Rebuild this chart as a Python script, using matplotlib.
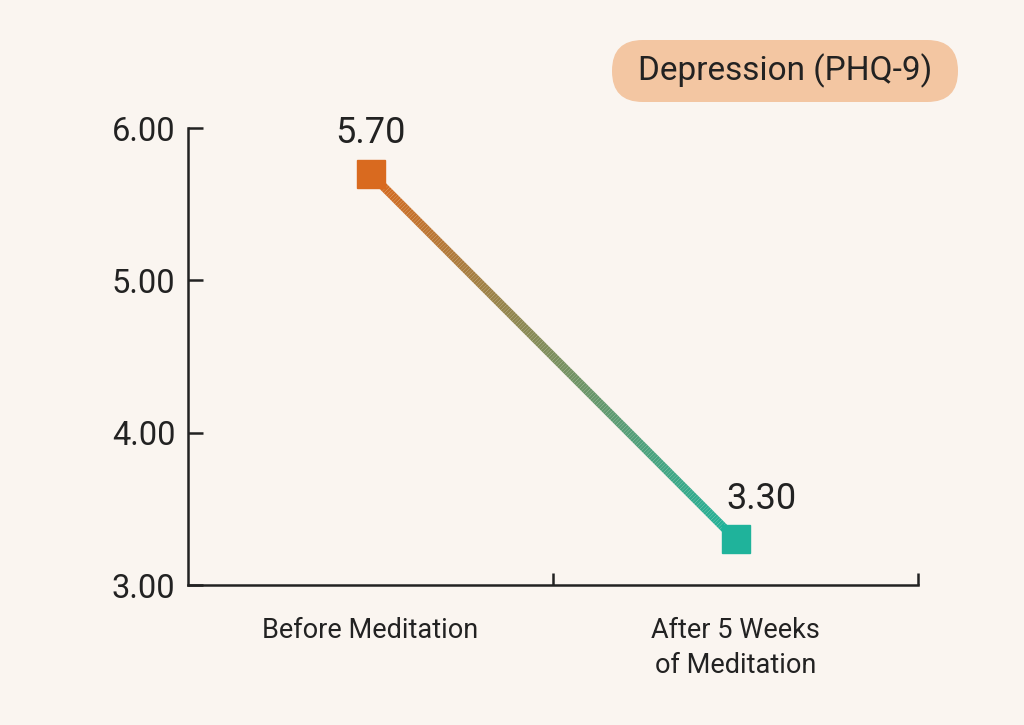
"""Before/after PHQ-9 depression score, gradient line chart."""

import numpy as np
import matplotlib
matplotlib.use('Agg')
import matplotlib.pyplot as plt
from matplotlib.collections import LineCollection
from matplotlib.colors import LinearSegmentedColormap
from matplotlib.patches import FancyBboxPatch


CATEGORIES = ['Before Meditation', 'After 5 Weeks\nof Meditation']
SCORES = [5.70, 3.30]
Y_TICKS = [3.0, 4.0, 5.0, 6.0]
BADGE_TEXT = 'Depression (PHQ-9)'

BG = '#FAF5F0'
INK = '#222222'
ORANGE = '#D96A1F'
TEAL = '#1FB39B'
BADGE = '#F3C6A2'

plt.rcParams['font.family'] = ['Roboto', 'DejaVu Sans']

fig = plt.figure(figsize=(10.24, 7.25), dpi=100, facecolor=BG)
ax = fig.add_axes([0.1836, 0.1931, 0.7129, 0.6303])
ax.set_facecolor(BG)

# points sit in the middle of each category slot
x_pos = np.arange(len(CATEGORIES)) + 0.5

# gradient line: split the single segment into many short pieces
n_pieces = 200
t = np.linspace(0.0, 1.0, n_pieces + 1)
xs = x_pos[0] + (x_pos[1] - x_pos[0]) * t
ys = SCORES[0] + (SCORES[1] - SCORES[0]) * t
pts = np.column_stack([xs, ys]).reshape(-1, 1, 2)
segs = np.concatenate([pts[:-1], pts[1:]], axis=1)
cmap = LinearSegmentedColormap.from_list('grad', [ORANGE, TEAL])
lc = LineCollection(segs, cmap=cmap, linewidth=6.2, capstyle='butt', zorder=2)
lc.set_array(t[:-1])
ax.add_collection(lc)

for x, y, c in zip(x_pos, SCORES, [ORANGE, TEAL]):
    ax.plot(x, y, marker='s', markersize=20.5, color=c, zorder=3)

ax.annotate(f'{SCORES[0]:.2f}', (x_pos[0], SCORES[0]), xytext=(0, 29),
            textcoords='offset points', ha='center', va='center',
            fontsize=26, color=INK)
ax.annotate(f'{SCORES[1]:.2f}', (x_pos[1], SCORES[1]), xytext=(19, 29),
            textcoords='offset points', ha='center', va='center',
            fontsize=26, color=INK)

ax.set_xlim(0, len(CATEGORIES))
ax.set_ylim(min(Y_TICKS), max(Y_TICKS))

ax.set_yticks(Y_TICKS)
ax.set_yticklabels([f'{v:.2f}' for v in Y_TICKS])
ax.tick_params(axis='y', direction='in', length=11, width=1.8,
               color=INK, labelsize=23.5, labelcolor=INK, pad=9)

ax.set_xticks(np.arange(1, len(CATEGORIES) + 1))
ax.set_xticklabels([])
ax.tick_params(axis='x', which='major', direction='in', length=9,
               width=1.8, color=INK)
ax.set_xticks(x_pos, minor=True)
ax.set_xticklabels(CATEGORIES, minor=True, fontsize=19.5, color=INK,
                   linespacing=1.4, va='top')
ax.tick_params(axis='x', which='minor', length=0, pad=23)

for side in ('top', 'right'):
    ax.spines[side].set_visible(False)
for side in ('left', 'bottom'):
    ax.spines[side].set_linewidth(1.8)
    ax.spines[side].set_color(INK)
ax.spines['bottom'].set_capstyle('projecting')

# rounded pill badge in the top right
badge_x, badge_y, badge_w, badge_h = 612, 725 - 102, 346, 62
pill = FancyBboxPatch((badge_x / 1024, badge_y / 725), badge_w / 1024,
                      badge_h / 725,
                      boxstyle='round,pad=0,rounding_size=0.03',
                      transform=fig.transFigure, facecolor=BADGE,
                      edgecolor='none', mutation_aspect=1024 / 725)
fig.patches.append(pill)
fig.text((badge_x + badge_w / 2) / 1024, (badge_y + badge_h / 2) / 725,
         BADGE_TEXT, ha='center', va='center', fontsize=24, color=INK)

fig.savefig('out.png', dpi=100, facecolor=BG)
